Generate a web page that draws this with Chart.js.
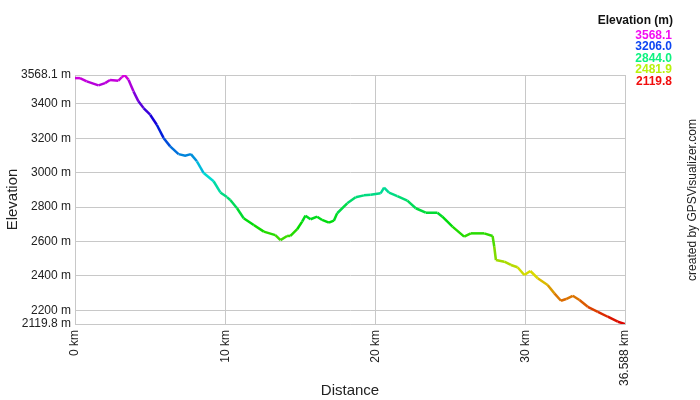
<!DOCTYPE html>
<html>
<head>
<meta charset="utf-8">
<script src="https://cdn.jsdelivr.net/npm/chart.js@4/dist/chart.umd.min.js"></script>
<style>
  html, body { margin: 0; padding: 0; background: #fff; }
  #wrap { width: 700px; height: 400px; }
</style>
</head>
<body>
<div id="wrap"><canvas id="myChart" width="700" height="400"></canvas></div>
<script>
// distance along the track (km) and elevation (m)
const distKm = [0, 0.33, 0.78, 1.56, 2.0, 2.33, 2.89, 3.11, 3.29, 3.56, 3.89, 4.22, 4.56, 5.0, 5.44,
  5.89, 6.33, 6.89, 7.33, 7.71, 8.11, 8.56, 9.22, 9.67, 10.11, 10.33, 10.78, 11.22, 11.89, 12.56,
  13.33, 13.67, 14.11, 14.33, 14.78, 15.11, 15.33, 15.67, 16.11, 16.44, 16.89, 17.22, 17.44, 18.11,
  18.67, 19.22, 19.67, 20.33, 20.56, 20.89, 21.44, 22.11, 22.67, 23.33, 24.11, 24.44, 25.11, 25.89,
  26.33, 27.22, 27.78, 27.89, 28.0, 28.56, 29.0, 29.44, 29.89, 30.29, 30.78, 31.44, 31.89, 32.33,
  32.67, 33.11, 33.56, 34.11, 34.78, 35.44, 36.11, 36.588];
const elevM = [3550, 3550, 3531, 3508, 3521, 3539, 3535, 3555, 3568, 3541, 3473, 3415, 3376, 3337, 3279,
  3202, 3153, 3108, 3099, 3108, 3066, 2998, 2950, 2885, 2858, 2841, 2793, 2735, 2696, 2657,
  2637, 2608, 2632, 2632, 2671, 2715, 2750, 2729, 2744, 2725, 2709, 2721, 2764, 2822,
  2857, 2868, 2872, 2880, 2913, 2884, 2864, 2837, 2793, 2767, 2767, 2744, 2686, 2628,
  2647, 2647, 2632, 2569, 2492, 2482, 2463, 2450, 2405, 2428, 2386, 2347, 2298, 2255,
  2265, 2284, 2259, 2220, 2191, 2162, 2133, 2119.8];

const xTicks = [0, 10, 20, 30, 36.588];
const yTicks = [2119.8, 2200, 2400, 2600, 2800, 3000, 3200, 3400, 3568.1];
const legendVals = [3568.1, 3206.0, 2844.0, 2481.9, 2119.8];

const minE = 2119.8, maxE = 3568.1;

function hueFor(v) {
  return 300 * (v - minE) / (maxE - minE);
}
function lineColor(v) {
  return 'hsl(' + hueFor(v) + ',100%,43%)';
}

const points = distKm.map((d, i) => ({x: d, y: elevM[i]}));

const textColor = '#222';
const fontFam = '"Liberation Sans", Arial, sans-serif';

// legend box top-right and the credit text on the right edge
const extras = {
  id: 'extras',
  afterDraw(chart) {
    const ctx = chart.ctx;
    ctx.save();
    ctx.textAlign = 'right';
    ctx.textBaseline = 'middle';
    ctx.font = 'bold 12px ' + fontFam;
    ctx.fillStyle = '#111';
    ctx.fillText('Elevation (m)', 673, 21);
    legendVals.forEach((v, i) => {
      ctx.fillStyle = 'hsl(' + hueFor(v) + ',90%,50%)';
      ctx.fillText(v.toFixed(1), 672, 35.5 + i * 11.5);
    });
    ctx.translate(693, 200);
    ctx.rotate(-Math.PI / 2);
    ctx.textAlign = 'center';
    ctx.font = '12px ' + fontFam;
    ctx.fillStyle = textColor;
    ctx.fillText('created by GPSVisualizer.com', 0, 0);
    ctx.restore();
  }
};

new Chart('myChart', {
  type: 'line',
  data: {
    datasets: [{
      data: points,
      borderWidth: 2.5,
      pointRadius: 0,
      tension: 0,
      fill: false,
      segment: {
        borderColor: c => lineColor((c.p0.parsed.y + c.p1.parsed.y) / 2)
      }
    }]
  },
  options: {
    responsive: false,
    animation: false,
    layout: {padding: {top: 75, right: 75, left: 0, bottom: 0}},
    plugins: {
      legend: {display: false},
      tooltip: {enabled: false}
    },
    scales: {
      x: {
        type: 'linear',
        min: 0,
        max: 36.588,
        afterBuildTicks: s => { s.ticks = xTicks.map(v => ({value: v})); },
        afterFit: s => { s.height = 76; },
        grid: {color: '#c8c8c8', drawTicks: false},
        border: {color: '#c8c8c8'},
        ticks: {
          autoSkip: false,
          minRotation: 90,
          maxRotation: 90,
          padding: 6,
          color: textColor,
          font: {family: fontFam, size: 12},
          callback: v => v + ' km'
        },
        title: {
          display: true,
          text: 'Distance',
          color: textColor,
          font: {family: fontFam, size: 15},
          padding: {top: 0, bottom: 0}
        }
      },
      y: {
        type: 'linear',
        min: minE,
        max: maxE,
        afterBuildTicks: s => { s.ticks = yTicks.map(v => ({value: v})); },
        afterFit: s => { s.width = 75; },
        grid: {color: '#c8c8c8', drawTicks: false},
        border: {color: '#c8c8c8'},
        ticks: {
          autoSkip: false,
          padding: 4,
          color: textColor,
          font: {family: fontFam, size: 12},
          callback: v => v + ' m'
        },
        title: {
          display: true,
          text: 'Elevation',
          color: textColor,
          font: {family: fontFam, size: 15},
          padding: {top: 4, bottom: 0}
        }
      }
    }
  },
  plugins: [extras]
});
</script>
</body>
</html>
